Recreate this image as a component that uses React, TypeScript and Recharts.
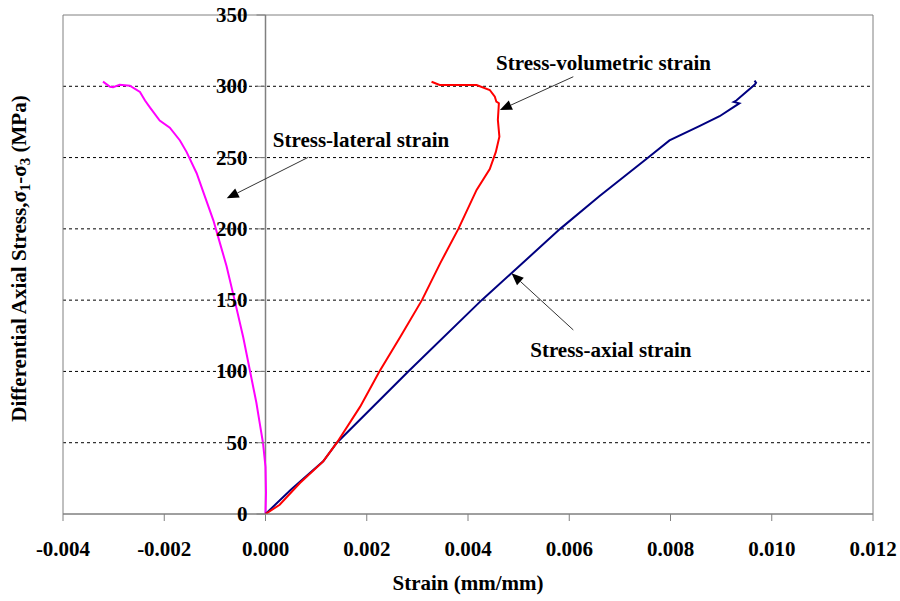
import React from 'react';
import {
  LineChart,
  Line,
  XAxis,
  YAxis,
  CartesianGrid,
  ReferenceLine,
  ReferenceArea,
  ReferenceDot,
} from 'recharts';

// ---------- data ----------
const X_TICKS = [-0.004, -0.002, 0, 0.002, 0.004, 0.006, 0.008, 0.01, 0.012];
const Y_TICKS = [0, 50, 100, 150, 200, 250, 300, 350];
const GRID_Y = [50, 100, 150, 200, 250, 300];

const lateralStrain = [
  0, 0.00001, 0, -0.00005, -0.00012, -0.00018, -0.00031, -0.00044, -0.00061, -0.00077,
  -0.0009, -0.00103, -0.0012, -0.00136, -0.00156, -0.00169, -0.00189, -0.00209, -0.00228,
  -0.00238, -0.00248, -0.00268, -0.00288, -0.00301, -0.00307, -0.00321,
];
const lateralStress = [
  0, 15, 33, 50, 65, 78, 101, 124, 150, 174, 190, 206, 223, 239, 254, 262, 271, 276, 285,
  290, 296, 300.4, 301.1, 299.3, 299.7, 303.3,
];

const volStrain = [
  0, 0.00028, 0.00068, 0.00114, 0.00141, 0.00187, 0.00225, 0.00267, 0.00309, 0.00345,
  0.00381, 0.00417, 0.00443, 0.00455, 0.00462, 0.00459, 0.00461, 0.00456, 0.00453,
  0.00443, 0.00417, 0.00367, 0.00344, 0.00328,
];
const volStress = [
  0, 6.5, 21.7, 36.9, 50, 75.3, 100, 124.6, 150, 175.8, 200, 227.3, 242, 254, 264.7,
  276.4, 288.1, 289.2, 292.7, 297.4, 300.9, 300.9, 300.9, 303.2,
];

const axialStrain = [
  0, 0.0005, 0.00114, 0.00141, 0.00282, 0.00427, 0.00483, 0.00582, 0.0066, 0.00756,
  0.00798, 0.00857, 0.00897, 0.00923, 0.00936, 0.00925, 0.0093, 0.00966, 0.00969, 0.00966,
];
const axialStress = [
  0, 17, 37, 50, 100, 150, 168, 200, 223, 250, 262, 272, 279, 285, 288, 289, 290, 301,
  302.5, 304,
];

const ANNOT_TEXT = ['Stress-lateral strain', 'Stress-volumetric strain', 'Stress-axial strain'];
const ANNOT_POS_X = [0.001886, 0.006677, 0.006821];
const ANNOT_POS_Y = [262.3, 316.7, 115.0];
// arrows: tail -> tip
const ARROW_TAIL_X = [0.000845, 0.00608, 0.00608];
const ARROW_TAIL_Y = [250.2, 306.7, 129.1];
const ARROW_TIP_X = [-0.000766, 0.00463, 0.00486];
const ARROW_TIP_Y = [221.4, 283.3, 168.8];

const toPoints = (xs: number[], ys: number[]) => xs.map((x, i) => ({ x, y: ys[i] }));
const lateral = toPoints(lateralStrain, lateralStress);
const volumetric = toPoints(volStrain, volStress);
const axial = toPoints(axialStrain, axialStress);

// ---------- layout ----------
const W = 900;
const H = 601;
const Y_AXIS_W = 63;
const X_AXIS_H = 87;
const MARGIN = { top: 15, right: 27, bottom: 0, left: 0 };
const PLOT_W = W - MARGIN.left - MARGIN.right - Y_AXIS_W;
const X_MIN = -0.004;
const X_MAX = 0.012;
const ZERO_X = MARGIN.left + Y_AXIS_W + (PLOT_W * (0 - X_MIN)) / (X_MAX - X_MIN);
const FONT = "'Liberation Serif', 'Times New Roman', Times, serif";
const FS = 21;
const AXIS_GRAY = '#808080';

const YTick = (props: any) => {
  const { y, payload } = props;
  return (
    <g>
      <line x1={ZERO_X - 9} y1={y} x2={ZERO_X} y2={y} stroke={AXIS_GRAY} strokeWidth={1} />
      <text
        x={ZERO_X - 18}
        y={y + 7}
        textAnchor="end"
        fontFamily={FONT}
        fontWeight="bold"
        fontSize={FS}
        fill="#000"
      >
        {payload.value}
      </text>
    </g>
  );
};

const YTitle = (props: any) => {
  const vb = props.viewBox || { x: 0, y: 15, width: 63, height: 499 };
  const cx = 26;
  const cy = vb.y + vb.height / 2 - 6;
  return (
    <text
      x={cx}
      y={cy}
      transform={`rotate(-90, ${cx}, ${cy})`}
      textAnchor="middle"
      fontFamily={FONT}
      fontWeight="bold"
      fontSize={FS}
      fill="#000"
    >
      Differential Axial Stress,σ
      <tspan fontSize={15} dy={4}>1</tspan>
      <tspan dy={-4}>-σ</tspan>
      <tspan fontSize={15} dy={4}>3</tspan>
      <tspan dy={-4}> (MPa)</tspan>
    </text>
  );
};

const XTitle = (props: any) => {
  const vb = props.viewBox || { x: 63, y: 514, width: 810, height: 87 };
  return (
    <text
      x={vb.x + vb.width / 2}
      y={vb.y + 76}
      textAnchor="middle"
      fontFamily={FONT}
      fontWeight="bold"
      fontSize={FS}
      fill="#000"
    >
      Strain (mm/mm)
    </text>
  );
};

const arrowShape = (p: any) => {
  const { x1, y1, x2, y2 } = p;
  const dx = x2 - x1;
  const dy = y2 - y1;
  const len = Math.hypot(dx, dy) || 1;
  const ux = dx / len;
  const uy = dy / len;
  const L = 12;
  const HW = 5;
  const bx = x2 - ux * L;
  const by = y2 - uy * L;
  const pts = `${x2},${y2} ${bx - uy * HW},${by + ux * HW} ${bx + uy * HW},${by - ux * HW}`;
  return (
    <g>
      <line x1={x1} y1={y1} x2={bx} y2={by} stroke="#333" strokeWidth={1} />
      <polygon points={pts} fill="#000" />
    </g>
  );
};

const fmtX = (v: number) => v.toFixed(3);

export default function App() {
  return (
    <div style={{ position: 'absolute', left: 0, top: 0, width: W, height: H, background: '#fff' }}>
      <LineChart width={W} height={H} margin={MARGIN}>
        <CartesianGrid
          horizontal
          vertical={false}
          horizontalValues={GRID_Y}
          stroke="#000"
          strokeDasharray="3 3"
        />
        <XAxis
          dataKey="x"
          type="number"
          domain={[X_MIN, X_MAX]}
          ticks={X_TICKS}
          allowDataOverflow
          tickFormatter={fmtX}
          height={X_AXIS_H}
          stroke={AXIS_GRAY}
          tickSize={7}
          tickMargin={20}
          tick={{ fill: '#000', fontSize: FS, fontWeight: 'bold', fontFamily: FONT }}
          label={{ content: XTitle }}
          interval={0}
        />
        <YAxis
          dataKey="y"
          type="number"
          domain={[0, 350]}
          ticks={Y_TICKS}
          allowDataOverflow
          width={Y_AXIS_W}
          axisLine={false}
          tickLine={false}
          tick={YTick}
          label={{ content: YTitle }}
          interval={0}
        />
        <ReferenceArea
          x1={X_MIN}
          x2={X_MAX}
          y1={0}
          y2={350}
          fill="none"
          fillOpacity={0}
          stroke={AXIS_GRAY}
          strokeWidth={1}
        />
        <ReferenceLine x={0} stroke={AXIS_GRAY} strokeWidth={1.5} />
        <Line
          data={lateral}
          dataKey="y"
          type="linear"
          stroke="#FF00FF"
          strokeWidth={2}
          dot={false}
          isAnimationActive={false}
        />
        <Line
          data={axial}
          dataKey="y"
          type="linear"
          stroke="#000080"
          strokeWidth={2}
          dot={false}
          isAnimationActive={false}
        />
        <Line
          data={volumetric}
          dataKey="y"
          type="linear"
          stroke="#FF0000"
          strokeWidth={2}
          dot={false}
          isAnimationActive={false}
        />
        {ANNOT_TEXT.map((_, i) => (
          <ReferenceLine
            key={`arrow-${i}`}
            segment={[
              { x: ARROW_TAIL_X[i], y: ARROW_TAIL_Y[i] },
              { x: ARROW_TIP_X[i], y: ARROW_TIP_Y[i] },
            ]}
            shape={arrowShape}
            stroke="#333"
          />
        ))}
        {ANNOT_TEXT.map((t, i) => (
          <ReferenceDot
            key={`label-${i}`}
            x={ANNOT_POS_X[i]}
            y={ANNOT_POS_Y[i]}
            r={0}
            fill="none"
            stroke="none"
            label={{
              value: t,
              position: 'center',
              fill: '#000',
              fontSize: FS,
              fontWeight: 'bold',
              fontFamily: FONT,
            }}
          />
        ))}
      </LineChart>
    </div>
  );
}
